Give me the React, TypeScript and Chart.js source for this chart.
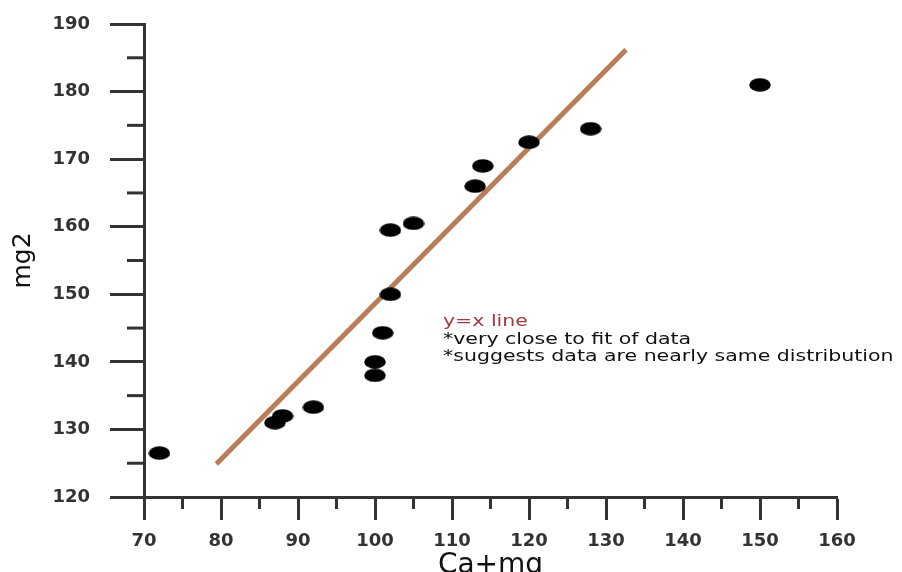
import React, { useEffect, useRef } from "react";
import { Chart, registerables } from "chart.js";

Chart.register(...registerables);

// Data
const caMg = [72, 87, 88, 92, 100, 100, 101, 102, 102, 105, 113, 114, 120, 128, 150];
const mg2 = [126.5, 131, 132, 133.3, 138, 140, 144.3, 150, 159.5, 160.5, 166, 169, 172.5, 174.5, 181];
const fitLineX = [79.4, 132.6];
const fitLineY = [124.9, 186.2];
const xTicksMinor = [75, 85, 95, 105, 115, 125, 135, 145, 155];
const yTicksMinor = [125, 135, 145, 155, 165, 175, 185];
const noteLines = ["y=x line", "*very close to fit of data", "*suggests data are nearly same distribution"];

function makeDot(): HTMLCanvasElement {
  const c = document.createElement("canvas");
  c.width = 22;
  c.height = 14;
  const g = c.getContext("2d")!;
  g.fillStyle = "#000";
  g.beginPath();
  g.ellipse(11, 7, 10.8, 6.8, 0, 0, Math.PI * 2);
  g.fill();
  return c;
}

const extrasPlugin = {
  id: "extras",
  afterDraw(chart: any) {
    const ctx = chart.ctx;
    const xs = chart.scales.x;
    const ys = chart.scales.y;
    ctx.save();
    ctx.strokeStyle = "#333";
    ctx.lineWidth = 3;
    const bottom = chart.chartArea.bottom;
    const left = chart.chartArea.left;
    xTicksMinor.forEach((v) => {
      const px = xs.getPixelForValue(v);
      ctx.beginPath();
      ctx.moveTo(px, bottom);
      ctx.lineTo(px, bottom + 12);
      ctx.stroke();
    });
    yTicksMinor.forEach((v) => {
      const py = ys.getPixelForValue(v);
      ctx.beginPath();
      ctx.moveTo(left, py);
      ctx.lineTo(left - 17, py);
      ctx.stroke();
    });
    // annotation text
    ctx.font = "16px 'DejaVu Sans'";
    ctx.textBaseline = "alphabetic";
    ctx.textAlign = "left";
    const x0 = 443;
    const baselines = [326, 343.5, 361];
    noteLines.forEach((t, i) => {
      ctx.save();
      ctx.translate(x0, baselines[i]);
      ctx.scale(1.28, 1);
      ctx.fillStyle = i === 0 ? "#a23a44" : "#111";
      ctx.fillText(t, 0, 0);
      ctx.restore();
    });
    ctx.restore();
  },
};

export default function App() {
  const ref = useRef<HTMLCanvasElement>(null);
  useEffect(() => {
    const dot = makeDot();
    const chart = new Chart(ref.current!, {
      type: "scatter",
      data: {
        datasets: [
          {
            label: "fit",
            type: "line" as any,
            data: fitLineX.map((x, i) => ({ x, y: fitLineY[i] })),
            borderColor: "#b97d58",
            borderWidth: 5,
            pointRadius: 0,
            showLine: true,
            fill: false,
            order: 2,
          } as any,
          {
            label: "mg2",
            data: caMg.map((x, i) => ({ x, y: mg2[i] })),
            pointStyle: dot as any,
            pointRadius: 10,
            order: 1,
          },
        ],
      },
      options: {
        responsive: false,
        animation: false,
        events: [],
        layout: { padding: { left: 0, top: 24, right: 65, bottom: 0 } },
        plugins: { legend: { display: false }, tooltip: { enabled: false } },
        scales: {
          x: {
            type: "linear",
            min: 70,
            max: 160,
            ticks: {
              stepSize: 10,
              padding: 11,
              color: "#333",
              font: { family: "'DejaVu Sans'", size: 18, weight: "bold" },
              maxRotation: 0,
            },
            grid: {
              drawOnChartArea: false,
              drawTicks: true,
              tickLength: 23,
              tickWidth: 3,
              tickColor: "#333",
            },
            border: { display: true, color: "#333", width: 3 },
            title: {
              display: true,
              text: "Ca+mg",
              color: "#111",
              font: { family: "'DejaVu Sans'", size: 28, lineHeight: 1 },
              padding: { top: 0, bottom: -8 },
            },
            afterFit: (s: any) => {
              s.height = 75;
              s.paddingLeft = 0;
              s.paddingRight = 0;
            },
          },
          y: {
            type: "linear",
            min: 120,
            max: 190,
            ticks: {
              stepSize: 10,
              padding: 20,
              color: "#333",
              font: { family: "'DejaVu Sans'", size: 18, weight: "bold" },
            },
            grid: {
              drawOnChartArea: false,
              drawTicks: true,
              tickLength: 34,
              tickWidth: 3,
              tickColor: "#333",
            },
            border: { display: true, color: "#333", width: 3 },
            title: {
              display: true,
              text: "mg2",
              color: "#111",
              font: { family: "'DejaVu Sans'", size: 25, lineHeight: 1 },
              padding: { top: 11, bottom: 0 },
            },
            afterFit: (s: any) => {
              s.width = 144;
              s.paddingTop = 0;
              s.paddingBottom = 0;
            },
          },
        },
      },
      plugins: [extrasPlugin],
    });
    return () => chart.destroy();
  }, []);
  return (
    <div style={{ position: "absolute", left: 0, top: 0, width: 902, height: 572, background: "#fff" }}>
      <canvas ref={ref} width={902} height={572} />
    </div>
  );
}
